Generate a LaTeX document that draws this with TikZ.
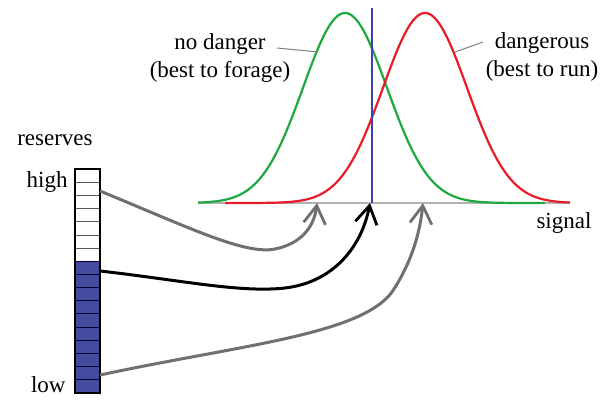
\documentclass[tikz,border=0pt]{standalone}
\usepackage{fontspec}
\setmainfont{Liberation Serif}
\usetikzlibrary{arrows.meta}
\definecolor{resBlue}{RGB}{68,76,160}
\definecolor{cutBlue}{RGB}{60,64,176}
\definecolor{safeGreen}{RGB}{30,168,64}
\definecolor{runRed}{RGB}{232,28,40}
\definecolor{arrGray}{RGB}{112,112,112}
\begin{document}
\begin{tikzpicture}[
    x=0.5pt,y=-0.5pt,
    lbl/.style={font=\fontsize{11.5}{14}\selectfont,inner sep=0pt},
    curveG/.style={draw=safeGreen,line width=1.1pt,smooth,samples=80},
    curveR/.style={draw=runRed,line width=1.1pt,smooth,samples=80},
    moveArrow/.style={line width=1.5pt,color=arrGray,-{Straight Barb[length=9pt,width=11pt,line width=1.4pt]}},
    leader/.style={draw=gray,line width=0.5pt},
]
\useasboundingbox (0,0) rectangle (613,401);
% reserves bar
\fill[resBlue] (75,261.2) rectangle (100,393);
\foreach \k in {1,...,6}
    \draw[gray!70!black,line width=0.4pt] (75,169+13.18*\k) -- (100,169+13.18*\k);
\foreach \k in {7,...,16}
    \draw[black!80!blue,line width=0.5pt] (75,169+13.18*\k) -- (100,169+13.18*\k);
\node[draw=black,line width=1pt,minimum width=12.5pt,minimum height=112pt,inner sep=0pt] (bar) at (87.5,281) {};
\node[lbl,anchor=east] (reserves) at (93,140) {reserves};
\node[lbl,anchor=east] (high) at (68,182) {high};
\node[lbl,anchor=east] (low) at (66,385) {low};
% signal axis and distributions
\coordinate (axL) at (198,203);
\coordinate (axR) at (570,203);
\draw[gray!60,line width=0.6pt] (axL) -- (axR);
\draw[curveG] plot[domain=198:545] (\x,{203-190*exp(-0.5*((\x-345)/42)^2)});
\draw[curveR] plot[domain=225:570] (\x,{203-190*exp(-0.5*((\x-425)/42)^2)});
\coordinate (cutTop) at (372,8);
\coordinate (cutBot) at (372,203);
\draw[cutBlue,line width=1.2pt] (cutTop) -- (cutBot);
\node[lbl,align=center] (safe) at (220,58) {no danger\\(best to forage)};
\node[lbl,align=center] (danger) at (542,57) {dangerous\\(best to run)};
\node[lbl] (signal) at (564,223) {signal};
\coordinate (safeFrom) at (277,48);
\coordinate (safeOn) at (318,52);
\coordinate (dangerFrom) at (483,42);
\coordinate (dangerOn) at (455,52);
\draw[leader] (safeFrom) -- (safeOn);
\draw[leader] (dangerFrom) -- (dangerOn);
% reserve level -> threshold
\coordinate (hi) at (100,191);
\coordinate (mid) at (100,271);
\coordinate (lo) at (100,375);
\coordinate (t1) at (317,203);
\coordinate (t2) at (370,203);
\coordinate (t3) at (423,203);
\draw[moveArrow] (hi) .. controls (190,228) and (245,255) .. (275,249)
    .. controls (300,244) and (314,228) .. (t1);
\draw[moveArrow,color=black] (mid) .. controls (180,280) and (240,293) .. (285,288)
    .. controls (335,282) and (362,245) .. (t2);
\draw[moveArrow] (lo) .. controls (240,345) and (360,335) .. (392,292)
    .. controls (412,262) and (420,232) .. (t3);
\end{tikzpicture}
\end{document}
